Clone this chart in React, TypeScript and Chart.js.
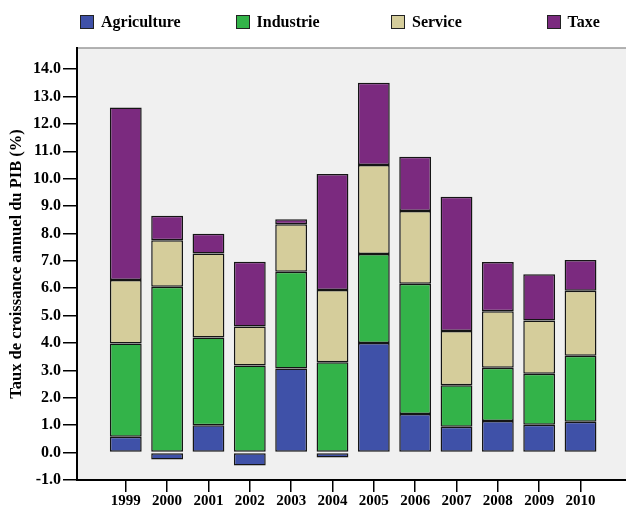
import React, { useEffect, useRef } from 'react';
import Chart from 'chart.js/auto';

const years = [1999, 2000, 2001, 2002, 2003, 2004, 2005, 2006, 2007, 2008, 2009, 2010];
const agriculture = [0.58, -0.25, 1.0, -0.47, 3.07, -0.18, 4.0, 1.41, 0.94, 1.15, 1.02, 1.13];
const industrie = [3.4, 6.05, 3.2, 3.18, 3.53, 3.3, 3.25, 4.75, 1.52, 1.95, 1.86, 2.41];
const service = [2.32, 1.7, 3.07, 1.42, 1.74, 2.64, 3.25, 2.66, 1.98, 2.06, 1.94, 2.37];
const taxe = [6.3, 0.9, 0.72, 2.37, 0.18, 4.23, 3.0, 1.98, 4.9, 1.8, 1.69, 1.12];
const yTicks = [-1, 0, 1, 2, 3, 4, 5, 6, 7, 8, 9, 10, 11, 12, 13, 14];

const series = [
	{ label: 'Agriculture', values: agriculture, color: '#3f51a8' },
	{ label: 'Industrie', values: industrie, color: '#33b349' },
	{ label: 'Service', values: service, color: '#d5cd9b' },
	{ label: 'Taxe', values: taxe, color: '#7b2a7f' },
];

const FONT = '"Liberation Serif", "Times New Roman", serif';

// grey plot background + top frame line
const plotBackground = {
	id: 'plotBackground',
	beforeDraw(chart: any) {
		const { ctx, chartArea } = chart;
		ctx.save();
		ctx.fillStyle = '#f0f0f0';
		ctx.fillRect(chartArea.left, chartArea.top, chartArea.right - chartArea.left, chartArea.bottom - chartArea.top);
		ctx.strokeStyle = '#9a9a9a';
		ctx.lineWidth = 1.5;
		ctx.beginPath();
		ctx.moveTo(chartArea.left, chartArea.top);
		ctx.lineTo(chartArea.right, chartArea.top);
		ctx.stroke();
		ctx.restore();
	},
};

function App() {
	const chartRef = useRef<any>(null);

	useEffect(() => {
		document.body.style.margin = '0';
		const ctx = chartRef.current?.getContext('2d');
		const chart = new Chart(ctx, {
			type: 'bar',
			data: {
				datasets: series.map((s) => ({
					label: s.label,
					data: years.map((yr, i) => ({ x: yr, y: s.values[i] })),
					backgroundColor: s.color,
					borderColor: '#151515',
					borderWidth: 1.5,
					borderSkipped: false,
					categoryPercentage: 1,
					barPercentage: 0.77,
				})),
			},
			options: {
				animation: false,
				responsive: false,
				layout: { padding: { top: 48, left: 0, right: 0, bottom: 0 } },
				plugins: {
					legend: { display: false },
					tooltip: { enabled: false },
				},
				scales: {
					x: {
						type: 'linear',
						stacked: true,
						offset: false,
						min: 1997.82,
						max: 2011.1,
						afterBuildTicks: (scale: any) => {
							scale.ticks = years.map((v) => ({ value: v }));
						},
						afterFit: (scale: any) => {
							scale.height = 30;
						},
						grid: { offset: false, drawOnChartArea: false, drawTicks: true, tickLength: 12, color: '#000', lineWidth: 1.5 },
						border: { display: true, color: '#000', width: 2 },
						ticks: {
							autoSkip: false,
							maxRotation: 0,
							padding: 0,
							color: '#000',
							font: { family: FONT, size: 15, weight: 'bold' },
							callback: (v: any) => String(v),
						},
					},
					y: {
						stacked: true,
						min: -1,
						max: 14.77,
						afterBuildTicks: (scale: any) => {
							scale.ticks = yTicks.map((v) => ({ value: v }));
						},
						afterFit: (scale: any) => {
							scale.width = 77;
						},
						grid: { drawOnChartArea: false, drawTicks: true, tickLength: 14, color: '#000', lineWidth: 1.5 },
						border: { display: true, color: '#000', width: 2 },
						ticks: {
							padding: 2,
							color: '#000',
							font: { family: FONT, size: 16, weight: 'bold' },
							callback: (v: any) => Number(v).toFixed(1),
						},
						title: {
							display: true,
							text: 'Taux de croissance annuel du PIB (%)',
							color: '#000',
							padding: { top: 7, bottom: 0 },
							font: { family: FONT, size: 16.5, weight: 'bold' },
						},
					},
				},
			},
			plugins: [plotBackground],
		} as any);

		return () => {
			chart.destroy();
		};
	});

	return (
		<div style={{ position: 'relative', width: 626, height: 510, background: '#fff' }}>
			<div style={{ position: 'absolute', top: 0, left: 0, width: 626, height: 44 }}>
				{series.map((s, i) => (
					<div
						key={s.label}
						style={{
							position: 'absolute',
							left: 80 + i * 155.5,
							top: 13,
							display: 'flex',
							alignItems: 'center',
							fontFamily: FONT,
							fontWeight: 'bold',
							fontSize: 16,
							color: '#000',
						}}
					>
						<span
							style={{
								display: 'inline-block',
								width: 12,
								height: 12,
								background: s.color,
								border: '1px solid #222',
								marginRight: 7,
							}}
						/>
						{s.label}
					</div>
				))}
			</div>
			<canvas ref={chartRef} width='626' height='510' />
		</div>
	);
}

export default App;
